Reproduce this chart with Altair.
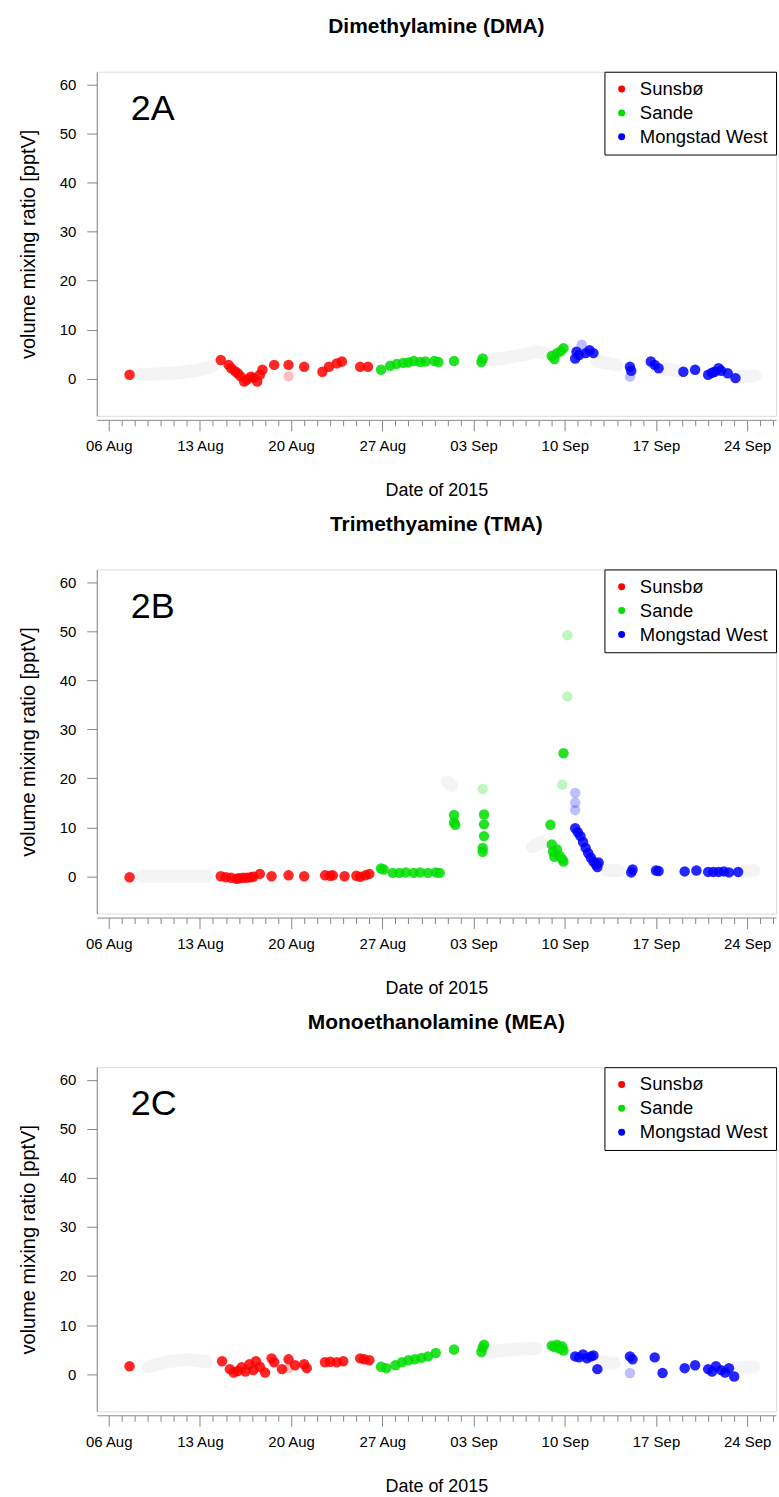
import altair as alt
import pandas as pd

SITES = ["Sunsbø", "Sande", "Mongstad West"]
COLORS = ["#FF0000", "#00DD00", "#0000FF"]

# days are "day of August 2015" (32 = 01 Sep, 41 = 10 Sep ...)
# ---------------- Panel 2A : DMA ----------------
dma_sun_day = [7.6, 14.6, 15.2, 15.4, 15.7, 15.9, 16.1, 16.4, 16.6, 16.9, 17.1, 17.4, 17.6, 17.8, 18.7, 19.8, 21.0, 22.4, 22.9, 23.5, 23.9, 25.3, 25.9]
dma_sun_val = [0.8, 3.8, 2.8, 2.1, 1.5, 1.1, 0.5, -0.6, -0.2, 0.4, 0.2, -0.6, 0.8, 1.8, 2.8, 2.8, 2.4, 1.4, 2.4, 3.1, 3.5, 2.4, 2.4]
dma_san_day = [26.9, 27.6, 28.1, 28.6, 29.0, 29.4, 29.9, 30.3, 31.0, 31.3, 32.5, 34.6, 34.7, 40.0, 40.2, 40.4, 40.7, 40.9]
dma_san_val = [1.8, 2.6, 3.0, 3.2, 3.3, 3.6, 3.4, 3.5, 3.6, 3.4, 3.6, 3.4, 4.1, 4.6, 4.0, 5.2, 5.6, 6.2]
dma_mon_day = [41.8, 41.9, 42.1, 42.6, 42.9, 43.2, 46.0, 46.1, 47.6, 47.9, 48.2, 50.1, 51.0, 52.0, 52.3, 52.5, 52.8, 53.0, 53.5, 54.1]
dma_mon_val = [4.1, 5.5, 4.8, 5.2, 5.8, 5.2, 2.4, 1.6, 3.5, 2.8, 2.1, 1.4, 1.8, 0.8, 1.2, 1.4, 2.1, 1.6, 1.1, 0.1]
dma_faint_site = ["Sunsbø", "Mongstad West", "Mongstad West"]
dma_faint_day = [19.8, 42.3, 46.0]
dma_faint_val = [0.5, 6.9, 0.4]
dma_grey_seg = [1, 1, 1, 1, 1, 2, 2, 2, 2, 2, 3, 3, 4, 4, 5, 5, 5]
dma_grey_day = [8.5, 10.0, 11.5, 13.0, 14.0, 35.0, 36.5, 38.0, 39.0, 39.6, 43.5, 45.0, 48.6, 49.8, 54.0, 54.8, 55.6]
dma_grey_val = [0.8, 1.0, 1.2, 1.8, 2.6, 3.8, 4.2, 5.0, 5.5, 5.0, 3.5, 2.8, 2.0, 1.5, 0.5, 0.4, 0.6]

# ---------------- Panel 2B : TMA ----------------
tma_sun_day = [7.6, 14.6, 15.0, 15.4, 15.8, 16.0, 16.3, 16.6, 16.9, 17.1, 17.6, 18.5, 19.8, 21.0, 22.6, 23.0, 23.2, 24.1, 25.0, 25.3, 25.7, 26.0]
tma_sun_val = [-0.2, 0.0, -0.2, -0.3, -0.5, -0.4, -0.3, -0.3, -0.2, -0.1, 0.5, 0.0, 0.2, 0.0, 0.2, 0.1, 0.2, 0.0, 0.1, -0.1, 0.2, 0.5]
tma_san_day = [26.9, 27.1, 27.8, 28.3, 28.8, 29.4, 29.9, 30.5, 31.1, 31.4, 32.5, 32.5, 32.6, 34.7, 34.7, 34.8, 34.8, 34.8, 39.9, 40.0, 40.1, 40.2, 40.4, 40.6, 40.8, 40.9, 40.9]
tma_san_val = [1.6, 1.4, 0.7, 0.7, 0.8, 0.7, 0.8, 0.7, 0.8, 0.7, 11.0, 12.5, 10.5, 5.8, 5.0, 8.2, 10.6, 12.6, 10.5, 6.5, 5.0, 4.0, 5.5, 4.2, 3.5, 3.0, 25.1]
tma_mon_day = [41.8, 42.0, 42.2, 42.4, 42.6, 42.8, 43.0, 43.2, 43.4, 43.5, 43.6, 46.1, 46.2, 48.0, 48.2, 50.2, 51.1, 52.0, 52.4, 52.8, 53.2, 53.6, 54.3]
tma_mon_val = [9.8, 9.0, 8.2, 7.0, 5.8, 4.7, 3.8, 3.0, 2.4, 1.9, 2.8, 0.8, 1.4, 1.2, 1.1, 1.0, 1.2, 0.9, 0.9, 0.9, 1.0, 0.8, 0.9]
tma_faint_site = ["Sande", "Sande", "Sande", "Sande", "Mongstad West", "Mongstad West", "Mongstad West"]
tma_faint_day = [41.2, 41.2, 40.8, 34.7, 41.8, 41.8, 41.8]
tma_faint_val = [49.2, 36.7, 18.7, 17.8, 17.0, 15.0, 13.5]
tma_grey_seg = [1, 1, 1, 2, 2, 3, 3, 4, 4, 5, 5]
tma_grey_day = [8.5, 11.0, 13.5, 32.0, 32.3, 38.5, 39.2, 44.2, 45.2, 54.5, 55.5]
tma_grey_val = [0.0, 0.0, 0.0, 19.3, 18.5, 6.0, 7.0, 1.2, 1.2, 1.0, 1.2]

# ---------------- Panel 2C : MEA ----------------
mea_sun_day = [7.6, 14.7, 15.3, 15.6, 15.9, 16.2, 16.5, 16.8, 17.1, 17.3, 17.6, 18.0, 18.5, 18.7, 19.3, 19.8, 20.3, 21.0, 21.2, 22.6, 23.0, 23.5, 24.0, 25.3, 25.6, 26.0]
mea_sun_val = [1.6, 2.6, 1.0, 0.3, 0.6, 1.4, 0.5, 2.0, 0.8, 2.6, 1.5, 0.3, 3.2, 2.4, 1.0, 3.0, 1.8, 2.0, 1.2, 2.4, 2.5, 2.4, 2.6, 3.2, 3.0, 2.8]
mea_san_day = [26.9, 27.3, 28.0, 28.5, 29.0, 29.5, 30.0, 30.5, 31.1, 32.5, 34.6, 34.7, 34.8, 40.0, 40.2, 40.4, 40.6, 40.8, 40.9]
mea_san_val = [1.5, 1.2, 1.8, 2.4, 2.8, 3.0, 3.3, 3.6, 4.3, 5.0, 4.5, 5.4, 6.0, 5.8, 5.5, 6.0, 5.2, 5.6, 4.8]
mea_mon_day = [41.8, 42.1, 42.4, 42.7, 43.0, 43.2, 43.5, 46.0, 46.2, 47.9, 48.5, 50.2, 51.0, 52.0, 52.3, 52.6, 53.0, 53.3, 53.6, 54.0]
mea_mon_val = [3.6, 3.4, 4.0, 3.2, 3.6, 3.8, 1.0, 3.6, 3.0, 3.4, 0.2, 1.2, 1.8, 1.0, 0.5, 1.6, 0.8, 0.3, 1.2, -0.5]
mea_faint_site = ["Mongstad West", "Sunsbø"]
mea_faint_day = [46.0, 19.8]
mea_faint_val = [0.2, 1.2]
mea_grey_seg = [1, 1, 1, 1, 2, 2, 2, 3, 3, 4, 4]
mea_grey_day = [9.0, 10.5, 12.0, 13.5, 35.0, 37.0, 38.8, 43.8, 44.8, 54.2, 55.5]
mea_grey_val = [1.5, 2.5, 3.0, 2.5, 4.5, 5.0, 5.2, 2.5, 2.2, 1.2, 1.5]

TITLES = ["Dimethylamine (DMA)", "Trimethyamine (TMA)", "Monoethanolamine (MEA)"]
LABELS = ["2A", "2B", "2C"]
LABEL_DAY = 7.7
LABEL_VAL = 55.0

FONT = "Liberation Sans"
T0 = pd.Timestamp("2015-08-01")


def to_iso(days):
    return [(T0 + pd.to_timedelta(d - 1, unit="D")).strftime("%Y-%m-%dT%H:%M:%SZ") for d in days]


def ms(ts):
    return int(pd.Timestamp(ts).value // 10**6)


day_ticks = [ms(d) for d in pd.date_range("2015-08-05", "2015-09-26", freq="D")]
XMIN = alt.DateTime(year=2015, month=8, date=5, hours=2, utc=True)
XMAX = alt.DateTime(year=2015, month=9, date=26, hours=5, utc=True)

is_week = "utcday(datum.value) == 4"

xaxis = alt.Axis(
    values=day_ticks,
    labelExpr=f"{is_week} ? utcFormat(datum.value, '%d %b') : ''",
    tickSize={"condition": {"test": is_week, "value": 11}, "value": 6},
    offset=4,
    labelPadding=8,
    labelFontSize=15,
    labelOverlap=False,
    labelFlush=False,
    titleFontSize=18,
    titleFontWeight="normal",
    titlePadding=28,
    grid=False,
)
yaxis = alt.Axis(
    values=[0, 10, 20, 30, 40, 50, 60],
    tickSize=10,
    labelPadding=11,
    labelFontSize=15,
    titleFontSize=20,
    titleFontWeight="normal",
    titlePadding=21,
    grid=False,
)


def panel(i, sun, san, mon, faint, grey):
    rows = []
    for site, (d, v) in zip(SITES, [sun, san, mon]):
        for t, val in zip(to_iso(d), v):
            rows.append({"t": t, "v": val, "site": site})
    pts = pd.DataFrame(rows)
    fdf = pd.DataFrame({"t": to_iso(faint[1]), "v": faint[2], "site": faint[0]})
    gdf = pd.DataFrame({"t": to_iso(grey[1]), "v": grey[2], "seg": grey[0]})
    ldf = pd.DataFrame({"t": to_iso([LABEL_DAY]), "v": [LABEL_VAL], "lab": [LABELS[i]]})

    x = alt.X("t:T", scale=alt.Scale(type="utc", domain=[XMIN, XMAX]), axis=xaxis, title="Date of 2015")
    y = alt.Y("v:Q", scale=alt.Scale(domain=[-7.6, 62.6], nice=False, zero=False), axis=yaxis,
              title="volume mixing ratio [pptV]")
    color = alt.Color("site:N", scale=alt.Scale(domain=SITES, range=COLORS),
                      legend=alt.Legend(title=None, orient="top-right", offset=0, strokeColor="black",
                                        fillColor="white", padding=8, labelFontSize=18.5, labelFont=FONT,
                                        symbolType="circle", symbolSize=49, symbolStrokeWidth=0,
                                        rowPadding=5, labelOffset=9, cornerRadius=0, symbolOpacity=1,
                                        labelColor="black"))

    g = alt.Chart(gdf).mark_line(color="#aaaaaa", strokeWidth=13, strokeCap="round", strokeJoin="round",
                                 opacity=0.13, clip=True).encode(x=x, y=y, detail="seg:N")
    f = alt.Chart(fdf).mark_circle(size=110, opacity=0.25, clip=True).encode(x=x, y=y, color=color)
    p = alt.Chart(pts).mark_circle(size=110, opacity=0.85, clip=True).encode(x=x, y=y, color=color)
    lab = alt.Chart(ldf).mark_text(fontSize=36, font=FONT, align="left", baseline="middle",
                                   color="black").encode(x=x, y=y, text="lab:N")
    return alt.layer(g, f, p, lab).properties(
        width=681, height=345,
        title=alt.TitleParams(TITLES[i], fontSize=21, font=FONT, fontWeight="bold", anchor="middle",
                              frame="group", offset=34, color="black"),
    )


pA = panel(0, (dma_sun_day, dma_sun_val), (dma_san_day, dma_san_val), (dma_mon_day, dma_mon_val),
           (dma_faint_site, dma_faint_day, dma_faint_val), (dma_grey_seg, dma_grey_day, dma_grey_val))
pB = panel(1, (tma_sun_day, tma_sun_val), (tma_san_day, tma_san_val), (tma_mon_day, tma_mon_val),
           (tma_faint_site, tma_faint_day, tma_faint_val), (tma_grey_seg, tma_grey_day, tma_grey_val))
pC = panel(2, (mea_sun_day, mea_sun_val), (mea_san_day, mea_san_val), (mea_mon_day, mea_mon_val),
           (mea_faint_site, mea_faint_day, mea_faint_val), (mea_grey_seg, mea_grey_day, mea_grey_val))

chart = alt.vconcat(pA, pB, pC, spacing=13).resolve_legend(color="independent").properties(
    padding={"left": 17, "top": 14, "right": 2, "bottom": 0}
).configure_view(stroke="black", strokeWidth=1).configure_axis(
    labelFont=FONT, titleFont=FONT, titleFontWeight="normal", labelColor="black", titleColor="black",
    domainColor="black", tickColor="black"
).configure(background="white")

chart.save("out.html", embed_options={"renderer": "svg", "actions": False})
